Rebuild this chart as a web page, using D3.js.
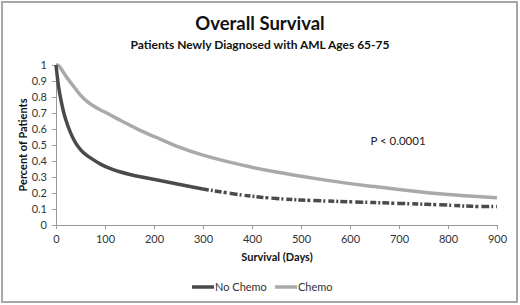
<!DOCTYPE html>
<html>
<head>
<meta charset="utf-8">
<script src="https://cdn.jsdelivr.net/npm/d3@7"></script>
<style>
body { margin: 0; background: #fff; }
text { font-family: Lato, "Open Sans", sans-serif; }
</style>
</head>
<body>
<div id="chart"></div>
<script>
// data
noChemoDays = [0, 5, 10, 15, 20, 30, 40, 50, 60, 75, 90, 110, 130, 150, 175, 200, 250, 300, 350, 400, 450, 500, 550, 600, 650, 700, 750, 800, 850, 900];
noChemo = [1.0, 0.86, 0.78, 0.71, 0.655, 0.57, 0.51, 0.47, 0.44, 0.41, 0.38, 0.352, 0.332, 0.316, 0.30, 0.285, 0.255, 0.225, 0.20, 0.178, 0.165, 0.155, 0.15, 0.145, 0.14, 0.135, 0.13, 0.125, 0.115, 0.115];

chemoDays = [0, 5, 10, 20, 30, 40, 50, 60, 75, 90, 110, 130, 150, 175, 200, 250, 300, 350, 400, 450, 500, 550, 600, 650, 700, 750, 800, 850, 900];
chemo = [1.0, 1.0, 0.98, 0.93, 0.89, 0.85, 0.81, 0.78, 0.745, 0.72, 0.69, 0.655, 0.625, 0.585, 0.555, 0.485, 0.435, 0.395, 0.36, 0.33, 0.305, 0.28, 0.258, 0.24, 0.222, 0.205, 0.19, 0.18, 0.17];

xTicks = [0, 100, 200, 300, 400, 500, 600, 700, 800, 900];
yTicks = [0, 0.1, 0.2, 0.3, 0.4, 0.5, 0.6, 0.7, 0.8, 0.9, 1];

// chart settings
var chart_width = 520;
var chart_height = 305;
var plot_left = 56, plot_right = 497, plot_top = 65, plot_bottom = 225;

var svg = d3.select('#chart')
	.append('svg')
	.attr('width', chart_width)
	.attr('height', chart_height);

// frame
svg.append('rect')
	.attr('x', 2).attr('y', 2)
	.attr('width', 515).attr('height', 300)
	.attr('fill', 'none')
	.attr('stroke', '#a6a6a6')
	.attr('stroke-width', 2);

// titles
svg.append('text')
	.attr('x', 260).attr('y', 30)
	.attr('text-anchor', 'middle')
	.attr('font-size', 18.5).attr('font-weight', 'bold')
	.attr('fill', '#111')
	.text('Overall Survival');

svg.append('text')
	.attr('x', 260).attr('y', 49)
	.attr('text-anchor', 'middle')
	.attr('font-size', 12).attr('font-weight', 'bold')
	.attr('fill', '#111')
	.text('Patients Newly Diagnosed with AML Ages 65-75');

// scales
var x_scale = d3.scaleLinear().domain([0, 900]).range([plot_left, plot_right]);
var y_scale = d3.scaleLinear().domain([0, 1]).range([plot_bottom, plot_top]);

// axes
var xAxis = svg.append('g')
	.attr('transform', 'translate(0,' + plot_bottom + ')')
	.call(d3.axisBottom(x_scale).tickValues(xTicks).tickSize(4).tickPadding(6).tickFormat(d3.format('d')));

var yAxis = svg.append('g')
	.attr('transform', 'translate(' + plot_left + ',0)')
	.call(d3.axisLeft(y_scale).tickValues(yTicks).tickSize(4).tickPadding(5).tickFormat((d) => d === 0 || d === 1 ? d : d3.format('.1f')(d)));

[xAxis, yAxis].forEach((g) => {
	g.select('.domain').attr('stroke', '#999');
	g.selectAll('.tick line').attr('stroke', '#999');
	g.selectAll('.tick text').attr('font-size', 11).attr('fill', '#333')
		.attr('font-family', 'Lato, "Open Sans", sans-serif');
});

// axis titles
svg.append('text')
	.attr('x', 277).attr('y', 261)
	.attr('text-anchor', 'middle')
	.attr('font-size', 11).attr('font-weight', 'bold')
	.attr('fill', '#111')
	.text('Survival (Days)');

svg.append('text')
	.attr('transform', 'translate(27,145) rotate(-90)')
	.attr('text-anchor', 'middle')
	.attr('font-size', 11).attr('font-weight', 'bold')
	.attr('fill', '#111')
	.text('Percent of Patients');

// lines
var line = d3.line()
	.x((d) => x_scale(d[0]))
	.y((d) => y_scale(d[1]))
	.curve(d3.curveBasis);

var chemoPts = chemoDays.map((d, i) => [d, chemo[i]]);
var noChemoPts = noChemoDays.map((d, i) => [d, noChemo[i]]);

svg.append('path')
	.attr('d', line(chemoPts))
	.attr('fill', 'none')
	.attr('stroke', '#a9a9a9')
	.attr('stroke-width', 3.5);

// no chemo: solid early, broken later
svg.append('path')
	.attr('d', line(noChemoPts.filter((d) => d[0] <= 300)))
	.attr('fill', 'none')
	.attr('stroke', '#4a4a4a')
	.attr('stroke-width', 3.5);

svg.append('path')
	.attr('d', line(noChemoPts.filter((d) => d[0] >= 300)))
	.attr('fill', 'none')
	.attr('stroke', '#4a4a4a')
	.attr('stroke-width', 3.5)
	.attr('stroke-dasharray', '6,2,2,2,7,2,3,3,8,2,2,3');

// p value
svg.append('text')
	.attr('x', 398).attr('y', 145)
	.attr('text-anchor', 'middle')
	.attr('font-size', 11.5)
	.attr('fill', '#222')
	.text('P < 0.0001');

// legend
var legend = [['No Chemo', '#4a4a4a', 192], ['Chemo', '#a9a9a9', 275]];
legend.forEach((l) => {
	svg.append('line')
		.attr('x1', l[2]).attr('x2', l[2] + 22)
		.attr('y1', 287).attr('y2', 287)
		.attr('stroke', l[1]).attr('stroke-width', 3.5);
	svg.append('text')
		.attr('x', l[2] + 23).attr('y', 291)
		.attr('font-size', 11)
		.attr('fill', '#333')
		.text(l[0]);
});
</script>
</body>
</html>
